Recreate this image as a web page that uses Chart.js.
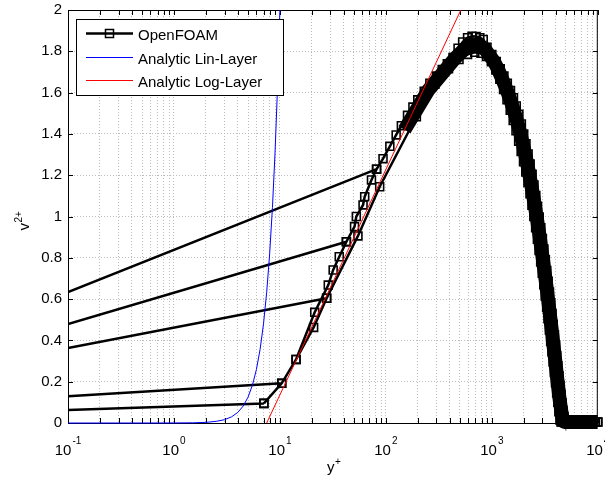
<!DOCTYPE html>
<html>
<head>
<meta charset="utf-8">
<script src="https://cdn.jsdelivr.net/npm/chart.js@4.4.1/dist/chart.umd.min.js"></script>
<style>
  html, body { margin: 0; padding: 0; background: #fff; }
</style>
</head>
<body>
<canvas id="v2Chart" width="605" height="489"></canvas>
<script>
// axis ticks
const xDecades = [0.1, 1, 10, 100, 1000, 10000];
const xDecadeExp = ["-1", "0", "1", "2", "3", "4"];
const yTicks = [0, 0.2, 0.4, 0.6, 0.8, 1, 1.2, 1.4, 1.6, 1.8, 2];

// OpenFOAM, coarse profile (right / lower edge of the band)
const coarseX = [7.06, 10.4, 14.2, 20.8, 27.6, 54.5, 87.4, 194, 290, 390, 490, 590, 690, 790, 890, 990,
  1090, 1190, 1290, 1390, 1490, 1590, 1690, 1790, 1890, 1990, 2090, 2190, 2290, 2390, 2490, 2590, 2690,
  2790, 2890, 2990, 3090, 3190, 3290, 3390, 3490, 3590, 3690, 3790, 3890, 3990, 4090, 4190, 4290, 4390,
  4490, 4600, 4800, 5000, 5300, 5600, 6000, 6400, 6800, 7300, 7800, 8300, 8900, 9500, 10000];
const coarseY = [0.095, 0.192, 0.308, 0.463, 0.604, 0.906, 1.144, 1.483, 1.64, 1.715, 1.76, 1.785, 1.795, 1.79, 1.775, 1.75,
  1.71, 1.665, 1.615, 1.565, 1.515, 1.465, 1.415, 1.365, 1.315, 1.265, 1.215, 1.165, 1.11, 1.055, 1.0, 0.945, 0.89,
  0.835, 0.78, 0.725, 0.67, 0.615, 0.56, 0.505, 0.45, 0.395, 0.345, 0.295, 0.245, 0.195, 0.145, 0.1, 0.055, 0.015,
  0.005, 0.005, 0.005, 0.005, 0.005, 0.005, 0.005, 0.005, 0.005, 0.005, 0.005, 0.005, 0.005, 0.005, 0.005];

// OpenFOAM, fine profile (left / upper edge of the band)
const fineX = [14.2, 21.3, 28.6, 31.8, 36.3, 42.4, 50.6, 52.6, 60.9, 63.1, 73.1, 81.7, 94, 109, 125, 140, 160, 180,
  200, 230, 260, 300, 340, 380, 430, 480, 530, 590, 650, 710, 770, 830, 900, 1000, 1100, 1200, 1300, 1400, 1500,
  1600, 1700, 1800, 1900, 2000, 2100, 2200, 2300, 2400, 2500, 2600, 2700, 2800, 2900, 3000, 3100, 3200, 3300,
  3400, 3500, 3600, 3700, 3800, 3900, 4000, 4100, 4200, 4300, 4400, 4500, 4600, 4700, 4800, 4900, 5000,
  5200, 5500, 5900, 6300, 6800, 7300, 7900, 8500, 9200, 10000];
const fineY = [0.308, 0.536, 0.668, 0.741, 0.805, 0.878, 0.951, 1.0, 1.056, 1.096, 1.177, 1.229, 1.28, 1.34, 1.395, 1.44, 1.49, 1.53,
  1.565, 1.607, 1.645, 1.68, 1.712, 1.74, 1.77, 1.815, 1.845, 1.866, 1.873, 1.872, 1.866, 1.857, 1.82, 1.785, 1.75, 1.715, 1.68, 1.645, 1.61,
  1.575, 1.535, 1.495, 1.448, 1.4, 1.352, 1.303, 1.254, 1.204, 1.153, 1.102, 1.05, 0.998, 0.946, 0.894, 0.842, 0.79, 0.738,
  0.686, 0.634, 0.582, 0.53, 0.478, 0.427, 0.376, 0.326, 0.277, 0.229, 0.183, 0.139, 0.098, 0.061, 0.03, 0.009, 0.005,
  0.005, 0.005, 0.005, 0.005, 0.005, 0.005, 0.005, 0.005, 0.005, 0.005];

// OpenFOAM, middle of the densely packed profiles (markers overlap into a solid band)
const midX = [150, 250, 350, 450, 550, 650, 750, 850, 950, 1050, 1150, 1250, 1350, 1450, 1550, 1650, 1750, 1850,
  1950, 2050, 2150, 2250, 2350, 2450, 2550, 2650, 2750, 2850, 2950, 3050, 3150, 3250, 3350, 3450, 3550, 3650,
  3750, 3850, 3950, 4050, 4150, 4250, 4350, 4450, 4550, 4650, 4750, 4850, 5500, 6500, 8000, 10000];
const midY = [1.42, 1.61, 1.7, 1.766, 1.81, 1.833, 1.832, 1.815, 1.78, 1.75, 1.71, 1.667, 1.626, 1.584, 1.541, 1.497, 1.452, 1.406,
  1.357, 1.308, 1.259, 1.208, 1.156, 1.103, 1.05, 0.997, 0.943, 0.89, 0.836, 0.783, 0.729, 0.676, 0.622, 0.569, 0.515, 0.463,
  0.412, 0.361, 0.31, 0.26, 0.211, 0.165, 0.12, 0.083, 0.05, 0.024, 0.008, 0.005, 0.005, 0.005, 0.005, 0.005];

// near-wall points below y+ = 0.1 joined to the profiles
const strayStartY = [0.063, 0.13, 0.363, 0.479, 0.634];
const strayEndX = [7.06, 10.4, 27.6, 42.4, 81.7];
const strayEndY = [0.095, 0.192, 0.604, 0.878, 1.229];

// analytic laws
const linX = [0.1, 0.5, 1, 1.5, 2, 2.5, 3, 3.5, 4, 4.5, 5, 5.5, 6, 6.5, 7, 7.5, 8, 8.5, 9, 9.5, 10, 10.5];
const linY = [0, 0, 0.0002, 0.001, 0.003, 0.008, 0.016, 0.03, 0.051, 0.082, 0.125, 0.183, 0.259, 0.357, 0.48, 0.633,
  0.819, 1.044, 1.312, 1.629, 2.0, 2.43];
const logX = [7.5, 510];
const logY = [0, 2];

const X_MIN = 0.1;
const X_MAX = 10000;
const FONT = '"Liberation Sans", Arial, Helvetica, sans-serif';

const toPoints = (xs, ys) => xs.map((x, i) => ({ x: x, y: ys[i] }));
const gap = { x: 1, y: null };

const foamData = [...toPoints(coarseX, coarseY), gap, ...toPoints(fineX, fineY), gap];
strayStartY.forEach((y0, i) => {
  foamData.push({ x: X_MIN, y: y0 }, { x: strayEndX[i], y: strayEndY[i] }, gap);
});

// grid positions on the log axis: 1..9 in every decade
const xGrid = [];
xDecades.forEach((d) => {
  for (let k = 1; k <= 9; k++) {
    if (d * k <= X_MAX) xGrid.push(d * k);
  }
});

const frame = {
  id: "frame",
  beforeDatasetsDraw(chart) {
    // axes box with inward ticks, drawn under the data like MATLAB does
    const { ctx, chartArea: a, scales } = chart;
    const x = scales.x;
    const y = scales.y;
    ctx.save();
    ctx.strokeStyle = "#000";
    ctx.lineWidth = 1;
    ctx.strokeRect(a.left + 0.5, a.top + 0.5, a.right - a.left - 1, a.bottom - a.top);
    ctx.beginPath();
    xGrid.forEach((v) => {
      const px = Math.round(x.getPixelForValue(v)) + 0.5;
      ctx.moveTo(px, a.bottom);
      ctx.lineTo(px, a.bottom - 5);
      ctx.moveTo(px, a.top);
      ctx.lineTo(px, a.top + 5);
    });
    yTicks.forEach((v) => {
      const py = Math.round(y.getPixelForValue(v)) + 0.5;
      ctx.moveTo(a.left, py);
      ctx.lineTo(a.left + 5, py);
      ctx.moveTo(a.right, py);
      ctx.lineTo(a.right - 5, py);
    });
    ctx.stroke();
    ctx.restore();
  },
  afterDatasetsDraw(chart) {
    const { ctx, chartArea: a, scales } = chart;
    const x = scales.x;
    const y = scales.y;
    ctx.save();
    ctx.fillStyle = "#000";
    ctx.font = "15px " + FONT;
    ctx.textAlign = "right";
    ctx.textBaseline = "middle";
    yTicks.forEach((v) => {
      ctx.fillText(String(+v.toFixed(1)), a.left - 6, y.getPixelForValue(v));
    });

    ctx.textAlign = "left";
    ctx.textBaseline = "alphabetic";
    xDecades.forEach((v, i) => {
      const px = x.getPixelForValue(v);
      ctx.font = "15px " + FONT;
      const wb = ctx.measureText("10").width;
      ctx.font = "10px " + FONT;
      const we = ctx.measureText(xDecadeExp[i]).width;
      const start = px - (wb + we + 1) / 2;
      ctx.font = "15px " + FONT;
      ctx.fillText("10", start, a.bottom + 32);
      ctx.font = "10px " + FONT;
      ctx.fillText(xDecadeExp[i], start + wb + 1, a.bottom + 21);
    });

    // x title: y+
    const xc = (a.left + a.right) / 2;
    ctx.font = "15px " + FONT;
    const wy = ctx.measureText("y").width;
    ctx.fillText("y", xc - 6, a.bottom + 49);
    ctx.font = "10px " + FONT;
    ctx.fillText("+", xc - 6 + wy + 0.5, a.bottom + 42);

    // y title: v2+
    ctx.translate(29, (a.top + a.bottom) / 2 + 4);
    ctx.rotate(-Math.PI / 2);
    ctx.font = "15px " + FONT;
    const wv = ctx.measureText("v").width;
    ctx.fillText("v", -10, 0);
    ctx.font = "10px " + FONT;
    ctx.fillText("2+", -10 + wv + 0.5, -7);
    ctx.restore();
  },
  afterDraw(chart) {
    const { ctx } = chart;
    const ds = chart.data.datasets.filter((d) => d.label);
    ctx.save();
    ctx.fillStyle = "#fff";
    ctx.fillRect(76, 19, 207, 76);
    ctx.strokeStyle = "#000";
    ctx.lineWidth = 1;
    ctx.strokeRect(76.5, 19.5, 207, 76);
    const rows = [33.5, 57.5, 80.5];
    ds.forEach((d, i) => {
      const ry = rows[i];
      ctx.strokeStyle = d.borderColor;
      ctx.lineWidth = d.borderWidth;
      ctx.beginPath();
      ctx.moveTo(86, ry);
      ctx.lineTo(133, ry);
      ctx.stroke();
      if (d.pointStyle === "rect") {
        ctx.lineWidth = 1.5;
        ctx.strokeRect(105.5, ry - 4, 8, 8);
      }
      ctx.fillStyle = "#000";
      ctx.font = "15px " + FONT;
      ctx.textAlign = "left";
      ctx.textBaseline = "alphabetic";
      ctx.fillText(d.label, 138, ry + 6);
    });
    ctx.restore();
  },
};

new Chart(document.getElementById("v2Chart"), {
  type: "line",
  data: {
    datasets: [
      {
        label: "OpenFOAM",
        data: foamData,
        borderColor: "#000",
        borderWidth: 2.5,
        pointStyle: "rect",
        pointRadius: (c) => (c.raw && c.raw.x <= X_MIN ? 0 : 5.6),
        pointBorderWidth: 1.6,
        pointBorderColor: "#000",
        pointBackgroundColor: "rgba(0,0,0,0)",
        clip: { left: 0, top: 8, right: 8, bottom: 8 },
        order: 3,
      },
      {
        label: "",
        data: toPoints(midX, midY),
        borderColor: "#000",
        borderWidth: 14,
        borderJoinStyle: "round",
        pointRadius: 0,
        clip: { left: 0, top: 8, right: 0, bottom: 8 },
        order: 4,
      },
      {
        label: "Analytic Lin-Layer",
        data: toPoints(linX, linY),
        borderColor: "#0000ff",
        borderWidth: 1,
        pointRadius: 0,
        clip: { left: 0, top: 0, right: 0, bottom: 1 },
        order: 2,
      },
      {
        label: "Analytic Log-Layer",
        data: toPoints(logX, logY),
        borderColor: "#ff0000",
        borderWidth: 1,
        pointRadius: 0,
        order: 1,
      },
    ],
  },
  options: {
    responsive: false,
    animation: false,
    events: [],
    layout: { padding: { top: 10, right: 7, left: 0, bottom: 0 } },
    plugins: {
      legend: { display: false },
      tooltip: { enabled: false },
    },
    scales: {
      x: {
        type: "logarithmic",
        min: X_MIN,
        max: X_MAX,
        afterBuildTicks: (scale) => {
          scale.ticks = xGrid.map((v) => ({ value: v }));
        },
        afterFit: (scale) => {
          scale.height = 66;
        },
        ticks: { display: false },
        grid: { color: "#bcbcbc", lineWidth: 1, drawTicks: false },
        border: { display: false, dash: [1, 2] },
      },
      y: {
        type: "linear",
        min: 0,
        max: 2,
        afterBuildTicks: (scale) => {
          scale.ticks = yTicks.map((v) => ({ value: v }));
        },
        afterFit: (scale) => {
          scale.width = 68;
        },
        ticks: { display: false },
        grid: { color: "#bcbcbc", lineWidth: 1, drawTicks: false },
        border: { display: false, dash: [1, 2] },
      },
    },
  },
  plugins: [frame],
});
</script>
</body>
</html>
